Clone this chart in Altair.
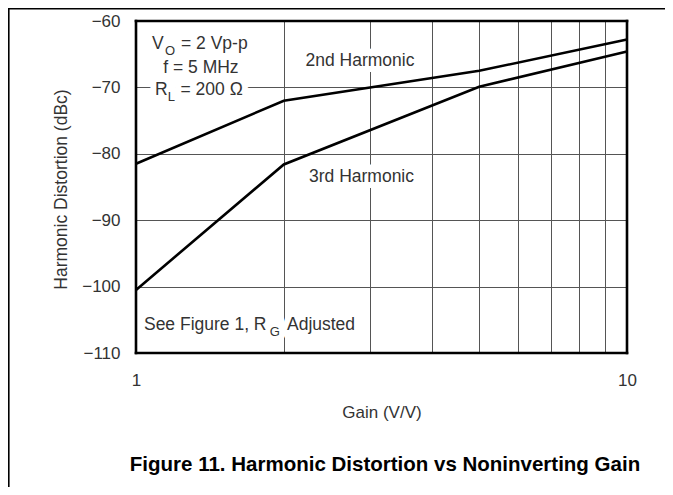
import altair as alt
import pandas as pd

# ---- data ----
gain = [1, 2, 5, 10]
second_harmonic = [-81.5, -72.0, -67.5, -62.8]
third_harmonic = [-100.5, -81.6, -69.9, -64.6]
y_ticks = [-110, -100, -90, -80, -70, -60]
x_grid = [1, 2, 3, 4, 5, 6, 7, 8, 9, 10]
caption = "Figure 11. Harmonic Distortion vs Noninverting Gain"

df = pd.DataFrame({
    "gain": gain + gain,
    "dbc": second_harmonic + third_harmonic,
    "series": ["2nd Harmonic"] * 4 + ["3rd Harmonic"] * 4,
})

# annotation text (placed in data coordinates)
ann_left = pd.DataFrame({
    "gain": [1.078, 1.146, 1.235, 1.093, 1.160, 1.232, 1.038, 1.872, 2.03],
    "dbc": [-63.46, -64.52, -63.46, -70.39, -71.45, -70.39, -105.78, -106.84, -105.78],
    "text": ["V", "O", "= 2 Vp-p", "R", "L", "= 200 Ω", "See Figure 1, R", "G", "Adjusted"],
    "size": [17.5, 13, 17.5, 17.5, 13, 17.5, 17.5, 13, 17.5],
})
ann_center = pd.DataFrame({
    "gain": [1.356, 2.859, 2.879],
    "dbc": [-67.08, -66.02, -83.49],
    "text": ["f = 5 MHz", "2nd Harmonic", "3rd Harmonic"],
    "size": [17.5, 17.5, 17.5],
})

W, H = 491, 332
PL, PT = 128, 13
TOTW, TOTH = 657, 479
FONT = "Liberation Sans"
TXT = "#333333"

xs = alt.Scale(type="log", domain=[1, 10], nice=False)
ys = alt.Scale(domain=[-110, -60], nice=False, zero=False)

x_axis = alt.Axis(
    values=x_grid, grid=True, gridColor="#555555", gridWidth=1,
    ticks=False, domain=False, labelFlush=False, labelOverlap=False,
    labelExpr="datum.value == 1 || datum.value == 10 ? datum.label : ''",
    labelFontSize=17, labelPadding=19, labelColor=TXT, labelFont=FONT,
    title="Gain (V/V)", titleFontSize=17, titleFontWeight="normal",
    titleColor=TXT, titleFont=FONT, titleY=59, titleBaseline="middle",
)
y_axis = alt.Axis(
    values=y_ticks, grid=True, gridColor="#555555", gridWidth=1,
    ticks=False, domain=False, labelFontSize=17, labelPadding=16,
    labelColor=TXT, labelFont=FONT,
    labelExpr="replace(format(datum.value, 'd'), '-', '\u2212')",
    title="Harmonic Distortion (dBc)", titleFontSize=17.5,
    titleFontWeight="normal", titleColor=TXT, titleFont=FONT,
    titleX=-75, titleY=H / 2 + 2, titleBaseline="middle", titleAngle=-90,
)

base_x = alt.X("gain:Q", scale=xs, axis=x_axis)
base_y = alt.Y("dbc:Q", scale=ys, axis=y_axis)


def text_layer(data, align, halo):
    props = dict(align=align, baseline="middle", font=FONT)
    if halo:
        props.update(stroke="white", strokeWidth=12, color="white")
    else:
        props.update(color=TXT)
    return alt.Chart(data).mark_text(**props).encode(
        x=alt.X("gain:Q", scale=xs), y=alt.Y("dbc:Q", scale=ys),
        text="text:N", size=alt.Size("size:Q", scale=None, legend=None),
    )


lines = alt.Chart(df).mark_line(color="black", strokeWidth=2.6).encode(
    x=base_x, y=base_y, detail="series:N"
)

one = pd.DataFrame({"caption": [caption]})
cap = alt.Chart(one).mark_text(
    align="center", baseline="middle", font=FONT, fontSize=20.5,
    fontWeight="bold", color="black"
).encode(x=alt.value(249), y=alt.value(444), text="caption:N")

# outer page frame (top and left)
top_rule = alt.Chart(one).mark_rule(color="black", strokeWidth=1.6).encode(
    x=alt.value(-PL), x2=alt.value(TOTW - PL), y=alt.value(-PT + 0.8)
)
left_rule = alt.Chart(one).mark_rule(color="black", strokeWidth=1.6).encode(
    x=alt.value(-PL + 0.8), y=alt.value(-PT), y2=alt.value(TOTH - PT)
)

# heavy plot-area border
fw = 2.6
frame = [
    alt.Chart(one).mark_rule(color="black", strokeWidth=fw, strokeCap="square").encode(
        x=alt.value(0), x2=alt.value(W), y=alt.value(0)),
    alt.Chart(one).mark_rule(color="black", strokeWidth=fw, strokeCap="square").encode(
        x=alt.value(0), x2=alt.value(W), y=alt.value(H)),
    alt.Chart(one).mark_rule(color="black", strokeWidth=fw, strokeCap="square").encode(
        x=alt.value(0), y=alt.value(0), y2=alt.value(H)),
    alt.Chart(one).mark_rule(color="black", strokeWidth=fw, strokeCap="square").encode(
        x=alt.value(W), y=alt.value(0), y2=alt.value(H)),
]

chart = alt.layer(
    text_layer(ann_left, "left", True),
    text_layer(ann_center, "center", True),
    lines,
    text_layer(ann_left, "left", False),
    text_layer(ann_center, "center", False),
    cap, top_rule, left_rule, *frame
).properties(
    width=W, height=H,
    autosize=alt.AutoSizeParams(type="none"),
    padding={"left": PL, "top": PT, "right": TOTW - PL - W, "bottom": TOTH - PT - H},
).configure_view(
    stroke=None
).configure(font=FONT, background="white")

chart.save("out.html", embed_options={"renderer": "svg", "actions": False})
